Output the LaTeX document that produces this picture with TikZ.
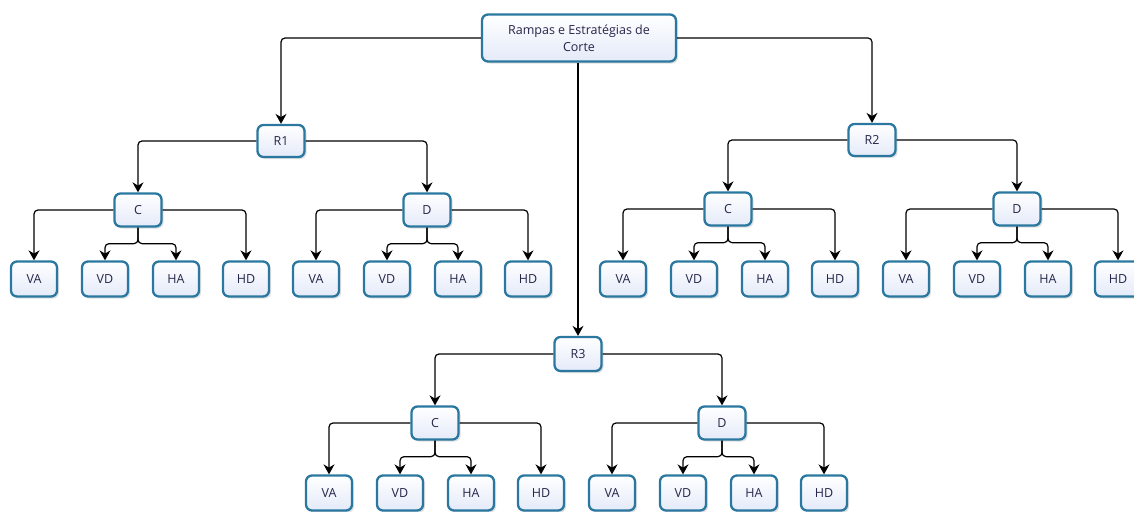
\documentclass[tikz,border=0pt]{standalone}
\usepackage{fontspec}
\setmainfont{Open Sans}
\usetikzlibrary{arrows.meta,shadows}
\definecolor{boxline}{HTML}{2A78A0}
\definecolor{boxtop}{HTML}{FFFFFF}
\definecolor{boxbot}{HTML}{E4EAF9}
\definecolor{boxtext}{HTML}{26264A}
\tikzset{
  box/.style={draw=boxline, line width=2.3pt, rounded corners=6pt,
    top color=boxtop, bottom color=boxbot, text=boxtext,
    font=\fontsize{12.5}{17}\selectfont, align=center,
    drop shadow={opacity=0.25, shadow xshift=2pt, shadow yshift=-2pt}},
  leaf/.style={box, minimum width=46pt, minimum height=35pt},
  mid/.style={box, minimum width=47pt, minimum height=33pt},
  conn/.style={draw=black, line width=1.2pt, rounded corners=4pt,
    -{Stealth[length=10pt,width=11pt]}}
}
% a C/D node with its four leaves and connectors
\newcommand\cutgroup[6]{%
  \node[mid] (#1) at (#3,#4) {#2};
  \node[leaf] (#1va) at (#5,#6) {VA};
  \node[leaf] (#1vd) at (#5+71,#6) {VD};
  \node[leaf] (#1ha) at (#5+142,#6) {HA};
  \node[leaf] (#1hd) at (#5+212,#6) {HD};
  \draw[conn] (#1.west) -| (#1va.north);
  \draw[conn] (#1.east) -| (#1hd.north);
  \draw[conn] (#1.south) -- ++(0,16) -| (#1vd.north);
  \draw[conn] (#1.south) -- ++(0,16) -| (#1ha.north);
}
\begin{document}
\begin{tikzpicture}[x=1pt,y=-1pt]
  \useasboundingbox[fill=white] (0,0) rectangle (1134,511);
  \node[box, minimum width=194pt, minimum height=47pt, inner sep=2pt] (root) at (579,38)
    {Rampas e Estratégias de\\Corte};
  \node[mid, minimum height=32pt] (r1) at (281,141) {R1};
  \node[mid, minimum height=32pt] (r2) at (872,140) {R2};
  \node[mid, minimum height=34pt] (r3) at (578,354) {R3};
  \draw[conn] (root.west) -| (r1.north);
  \draw[conn] (root.east) -| (r2.north);
  \draw[conn] (root.south -| r3.north) -- (r3.north);
  \cutgroup{ca}{C}{138}{210}{34}{279}
  \cutgroup{da}{D}{427}{210}{316}{279}
  \cutgroup{cb}{C}{728}{209}{623}{279}
  \cutgroup{db}{D}{1017}{209}{906}{279}
  \cutgroup{cc}{C}{435}{423}{329}{493}
  \cutgroup{dc}{D}{722}{423}{612}{493}
  \draw[conn] (r1.west) -| (ca.north);
  \draw[conn] (r1.east) -| (da.north);
  \draw[conn] (r2.west) -| (cb.north);
  \draw[conn] (r2.east) -| (db.north);
  \draw[conn] (r3.west) -| (cc.north);
  \draw[conn] (r3.east) -| (dc.north);
\end{tikzpicture}
\end{document}
